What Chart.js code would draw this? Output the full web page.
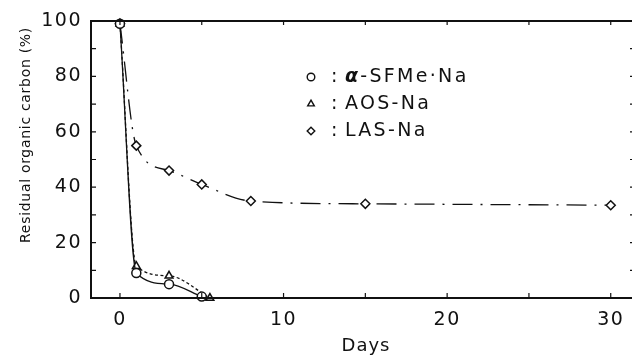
<!DOCTYPE html>
<html>
<head>
<meta charset="utf-8">
<script src="https://cdn.jsdelivr.net/npm/chart.js@4"></script>
<style>
  html, body { margin: 0; padding: 0; background: #fff; }
  #wrap { width: 632px; height: 359px; }
</style>
</head>
<body>
<div id="wrap"><canvas id="c" width="632" height="359"></canvas></div>
<script>
// values
var sfmeDays = [0, 1, 3, 5]
var sfmeVals = [99, 9, 5, 0.5]
var aosDays = [0, 1, 3, 5.5]
var aosVals = [99, 11.5, 8, 0]
var lasDays = [0, 1, 3, 5, 8, 15, 30]
var lasVals = [99, 55, 46, 41, 35, 34, 33.5]
var xTicks = [0, 5, 10, 15, 20, 25, 30]
var xLabels = [0, 10, 20, 30]
var yTicks = [0, 10, 20, 30, 40, 50, 60, 70, 80, 90, 100]
var yLabels = [0, 20, 40, 60, 80, 100]
var seriesNames = ['α-SFMe·Na', 'AOS-Na', 'LAS-Na']
var markerStyles = ['circle', 'triangle', 'rectRot']

var FONT = '"DejaVu Sans", Verdana, sans-serif'

function pts(xs, ys) {
  return xs.map(function (x, i) { return {x: x, y: ys[i]} })
}

function series(label, xs, ys, style, dash) {
  return {
    label: label,
    data: pts(xs, ys),
    showLine: true,
    borderColor: '#111',
    borderWidth: 1.3,
    borderDash: dash,
    cubicInterpolationMode: 'monotone',
    pointStyle: style,
    pointRadius: 4.5,
    pointBorderWidth: 1.5,
    pointBackgroundColor: '#fff',
    pointBorderColor: '#111',
    clip: false
  }
}

// letter spacing for the library's own tick labels
var spacing = {
  id: 'spacing',
  beforeDraw: function (chart) { chart.ctx.letterSpacing = '1.5px' },
  afterDraw: function (chart) { chart.ctx.letterSpacing = '0px' }
}

// frame, inward ticks, axis titles and legend
var decor = {
  id: 'decor',
  afterDatasetsDraw: function (chart) {
    var ctx = chart.ctx, a = chart.chartArea
    var xs = chart.scales.x, ys = chart.scales.y
    ctx.save()
    ctx.strokeStyle = '#111'
    ctx.lineWidth = 2
    ctx.beginPath()
    ctx.moveTo(a.right, a.top); ctx.lineTo(a.left, a.top)
    ctx.lineTo(a.left, a.bottom); ctx.lineTo(a.right, a.bottom)
    ctx.stroke()
    ctx.lineWidth = 1.2
    ctx.beginPath()
    xTicks.forEach(function (v) {
      var p = xs.getPixelForValue(v)
      ctx.moveTo(p, a.bottom); ctx.lineTo(p, a.bottom - 5)
      ctx.moveTo(p, a.top); ctx.lineTo(p, a.top + 4)
    })
    yTicks.forEach(function (v) {
      var p = ys.getPixelForValue(v)
      ctx.moveTo(a.left, p); ctx.lineTo(a.left + 5, p)
      ctx.moveTo(a.right, p); ctx.lineTo(a.right - 2, p)
    })
    ctx.stroke()

    ctx.fillStyle = '#111'
    ctx.textBaseline = 'middle'
    ctx.textAlign = 'center'

    // x title
    ctx.letterSpacing = '1px'
    ctx.font = '18px ' + FONT
    ctx.fillText('Days', 366, 346)

    // y title
    ctx.save()
    ctx.translate(26, 135)
    ctx.rotate(-Math.PI / 2)
    ctx.letterSpacing = '0.7px'
    ctx.font = '14px ' + FONT
    ctx.fillText('Residual organic carbon (%)', 0, 0)
    ctx.restore()

    // legend
    ctx.textAlign = 'left'
    ctx.letterSpacing = '2.3px'
    var ly = 77, gap = 27
    markerStyles.forEach(function (s, i) {
      var y = ly + i * gap
      ctx.lineWidth = 1.4
      ctx.fillStyle = '#fff'
      Chart.helpers.drawPoint(ctx, {pointStyle: s, radius: 3.8, rotation: 0, borderWidth: 1.4}, 311, y)
      ctx.fillStyle = '#111'
      ctx.font = '19px ' + FONT
      ctx.fillText(':', 331, y)
      var name = seriesNames[i]
      var tx = 345
      if (name.charAt(0) === 'α') {
        ctx.font = 'italic bold 19px ' + FONT
        ctx.fillText('α', tx, y)
        tx += ctx.measureText('α').width
        name = name.slice(1)
      }
      ctx.font = '19px ' + FONT
      ctx.fillText(name, tx, y)
    })
    ctx.restore()
  }
}

new Chart(document.getElementById('c'), {
  type: 'scatter',
  data: {
    datasets: [
      series(seriesNames[0], sfmeDays, sfmeVals, markerStyles[0], []),
      series(seriesNames[1], aosDays, aosVals, markerStyles[1], [3, 2.5]),
      series(seriesNames[2], lasDays, lasVals, markerStyles[2], [20, 8, 2, 8])
    ]
  },
  options: {
    responsive: false,
    animation: false,
    layout: {autoPadding: false, padding: {top: 21, right: 0, left: 0, bottom: 0}},
    plugins: {legend: {display: false}, tooltip: {enabled: false}},
    scales: {
      x: {
        type: 'linear',
        min: -1.77,
        max: 31.3,
        afterBuildTicks: function (s) { s.ticks = xTicks.map(function (v) { return {value: v} }) },
        afterFit: function (s) { s.height = 61; s.paddingRight = 0; s.paddingLeft = 0 },
        grid: {display: false, drawTicks: false},
        border: {display: false},
        ticks: {
          color: '#111',
          font: {family: FONT, size: 19},
          padding: 11,
          maxRotation: 0,
          autoSkip: false,
          callback: function (v) { return xLabels.indexOf(v) >= 0 ? String(v) : '' }
        }
      },
      y: {
        type: 'linear',
        min: 0,
        max: 100,
        afterBuildTicks: function (s) { s.ticks = yTicks.map(function (v) { return {value: v} }) },
        afterFit: function (s) { s.width = 91 },
        grid: {display: false, drawTicks: false},
        border: {display: false},
        ticks: {
          color: '#111',
          font: {family: FONT, size: 19},
          padding: 9,
          autoSkip: false,
          callback: function (v) { return yLabels.indexOf(v) >= 0 ? String(v) : '' }
        }
      }
    }
  },
  plugins: [spacing, decor]
})
</script>
</body>
</html>
